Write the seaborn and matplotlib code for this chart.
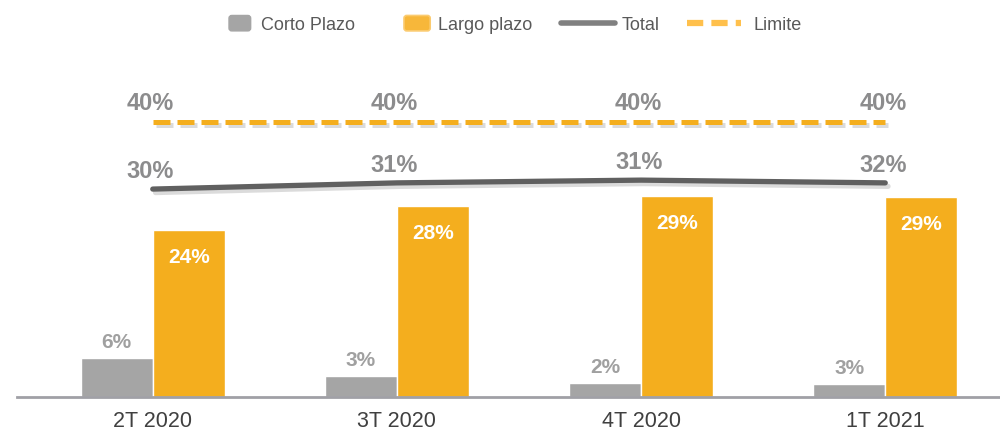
import pandas as pd
import matplotlib
matplotlib.use("Agg")
import matplotlib.pyplot as plt
import matplotlib.patheffects as pe
from matplotlib.lines import Line2D
from matplotlib.patches import Patch, FancyBboxPatch
from matplotlib.legend_handler import HandlerPatch
import seaborn as sns

# Data
periodos = ["2T 2020", "3T 2020", "4T 2020", "1T 2021"]
corto = [5.6, 3.05, 2.1, 1.9]
largo = [24.2, 27.8, 29.2, 29.1]
total = [30.2, 31.1, 31.5, 31.1]
limite = [40, 40, 40, 40]

corto_txt = ["6%", "3%", "2%", "3%"]
largo_txt = ["24%", "28%", "29%", "29%"]
total_txt = ["30%", "31%", "31%", "32%"]
limite_txt = ["40%", "40%", "40%", "40%"]

# Colors
GRIS = "#A5A5A5"
NARANJA = "#F4AE1E"
LINEA = "#606060"
ETIQ = "#8C8C8D"

sns.set_style("white")
plt.rcParams["font.family"] = ["Liberation Sans", "DejaVu Sans"]

df = pd.DataFrame({
    "periodo": periodos * 2,
    "valor": corto + largo,
    "serie": ["Corto Plazo"] * 4 + ["Largo plazo"] * 4
})

fig = plt.figure(figsize=(10, 4.32), dpi=100)
ax = fig.add_axes([0.017, 35 / 432, 0.983, 347 / 432])

sns.barplot(
    data=df,
    x="periodo",
    y="valor",
    hue="serie",
    palette=[GRIS, NARANJA],
    width=0.59,
    saturation=1,
    legend=False,
    ax=ax
)

xs = [0, 1, 2, 3]
sombra = [pe.SimpleLineShadow(offset=(2, -2.5), shadow_color="#9a9a9a", alpha=0.35),
          pe.Normal()]

sns.lineplot(x=xs, y=total, color=LINEA, linewidth=3.8, path_effects=sombra, ax=ax)
ax.lines[-1].set_solid_capstyle("round")
sns.lineplot(x=xs, y=limite, color=NARANJA, linewidth=3.6,
             linestyle=(0, (3.4, 1.4)), path_effects=sombra, ax=ax)
ax.lines[-1].set_dash_capstyle("butt")

off = 0.1475
for i in range(4):
    ax.text(i - off, corto[i] + 1.45, corto_txt[i], ha="center", va="baseline",
            color="#A0A0A0", fontsize=15, fontweight="bold")
    ax.text(i + off, largo[i] - 4.8, largo_txt[i], ha="center", va="baseline",
            color="white", fontsize=15, fontweight="bold")
    ax.text(i - 0.01, total[i] + 1.6, total_txt[i], ha="center", va="baseline",
            color=ETIQ, fontsize=17, fontweight="bold")
    ax.text(i - 0.01, limite[i] + 1.7, limite_txt[i], ha="center", va="baseline",
            color=ETIQ, fontsize=17, fontweight="bold")

ax.set_xlim(-0.556, 3.47)
ax.set_ylim(0, 50.4)
ax.set_xlabel("")
ax.set_ylabel("")
ax.set_yticks([])
ax.tick_params(axis="x", length=0, labelsize=15.5, labelcolor="#404040", pad=10)
for s in ["top", "right", "left"]:
    ax.spines[s].set_visible(False)
ax.spines["bottom"].set_color("#A0A0A6")
ax.spines["bottom"].set_linewidth(2)


# Legend: rounded square patches
def caja(legend, orig_handle, xdescent, ydescent, width, height, fontsize):
    return FancyBboxPatch((-xdescent, -ydescent - 1), width, height + 2,
                          boxstyle="round,pad=0,rounding_size=2")


items = [
    (Patch(facecolor=GRIS, edgecolor=GRIS, label="Corto Plazo"), 228, 1.2, 0.55),
    (Patch(facecolor="#F7B73A", edgecolor="#FBCB70", linewidth=1.2, label="Largo plazo"), 403, 1.45, 0.45),
    (Line2D([0], [0], color="#808080", linewidth=4, label="Total"), 560, 3.0, 0.33),
    (Line2D([0], [0], color="#FFC04C", linewidth=4.5, linestyle=(0, (2.6, 1.3)), label="Limite"), 686, 3.0, 0.7),
]
for h, xpx, hl, tp in items:
    fig.legend(handles=[h], loc="center left",
               bbox_to_anchor=((xpx + 1) / 1000, 1 - 25 / 432),
               frameon=False, fontsize=13, labelcolor="#595959",
               handlelength=hl, handletextpad=tp, borderpad=0, borderaxespad=0,
               handler_map={Patch: HandlerPatch(patch_func=caja)})

plt.savefig("out.png", dpi=100)
